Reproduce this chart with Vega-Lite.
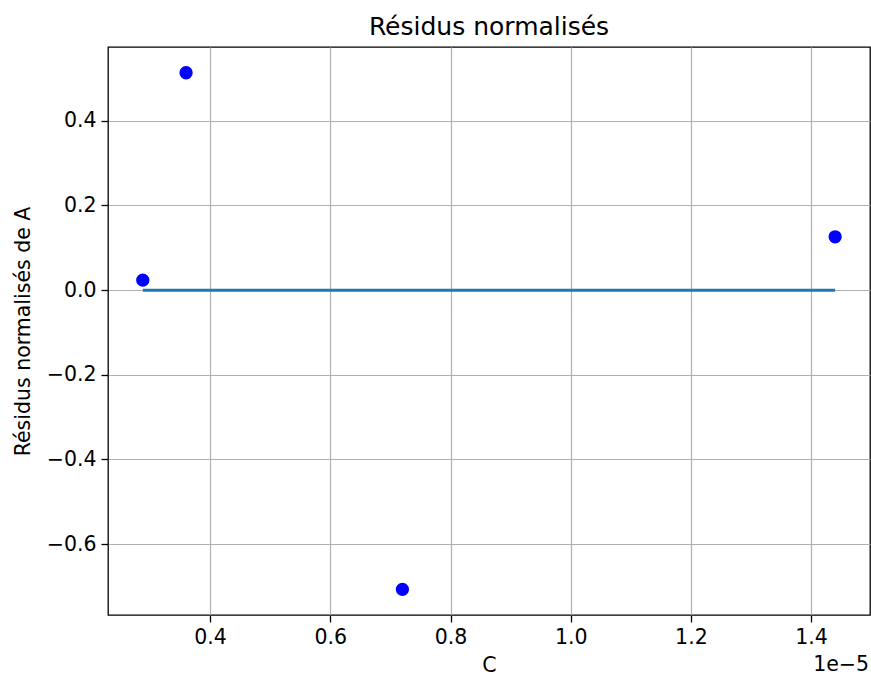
{
  "$schema": "https://vega.github.io/schema/vega-lite/v6.json",
  "width": 762,
  "height": 568,
  "autosize": "none",
  "padding": {"left": 108, "top": 47, "right": 1, "bottom": 62},
  "background": "white",
  "title": {"text": "Résidus normalisés", "font": "DejaVu Sans", "fontSize": 25, "fontWeight": "normal", "color": "black", "offset": 7, "baseline": "bottom", "anchor": "middle", "frame": "group", "dy": 25},
  "config": {
    "view": {"stroke": "black", "strokeWidth": 1.3},
    "axis": {"labelFont": "DejaVu Sans", "titleFont": "DejaVu Sans", "labelFontSize": 20.5, "titleFontSize": 20.5, "titleFontWeight": "normal", "labelColor": "black", "titleColor": "black", "domain": false, "tickColor": "black", "tickWidth": 1.3, "tickSize": 7, "labelPadding": 5, "gridColor": "#b0b0b0", "gridWidth": 1.2, "gridOpacity": 1}
  },
  "datasets": {
    "pts": [
      {"C": 0.00000288, "r": 0.0236},
      {"C": 0.0000036, "r": 0.5137},
      {"C": 0.0000072, "r": -0.707},
      {"C": 0.0000144, "r": 0.126}
    ],
    "zero": [
      {"C": 0.00000288, "r": 0},
      {"C": 0.0000036, "r": 0},
      {"C": 0.0000072, "r": 0},
      {"C": 0.0000144, "r": 0}
    ],
    "offset": [{"t": "1e−5", "C": 0.00001498, "r": -0.7676}]
  },
  "layer": [
    {
      "data": {"name": "zero"},
      "mark": {"type": "line", "color": "#1f77b4", "strokeWidth": 3},
      "encoding": {
        "x": {"field": "C", "type": "quantitative", "scale": {"domain": [0.000002301, 0.00001498], "nice": false, "zero": false},
          "axis": {"values": [0.000004, 0.000006, 0.000008, 0.00001, 0.000012, 0.000014], "labelExpr": "format(datum.value*1e5, '.1f')", "title": "C", "titlePadding": 8, "grid": true}},
        "y": {"field": "r", "type": "quantitative", "scale": {"domain": [-0.7676, 0.5745], "nice": false, "zero": false},
          "axis": {"values": [-0.6, -0.4, -0.2, 0, 0.2, 0.4], "labelExpr": "replace(format(datum.value, '.1f'), '-', '−')", "title": "Résidus normalisés de A", "titlePadding": 13, "grid": true}}
      }
    },
    {
      "data": {"name": "pts"},
      "mark": {"type": "circle", "color": "#0000ff", "opacity": 1, "size": 177},
      "encoding": {
        "x": {"field": "C", "type": "quantitative"},
        "y": {"field": "r", "type": "quantitative"}
      }
    },
    {
      "data": {"name": "offset"},
      "mark": {"type": "text", "font": "DejaVu Sans", "fontSize": 20.5, "align": "right", "baseline": "alphabetic", "dy": 56, "dx": -1, "color": "black"},
      "encoding": {
        "x": {"field": "C", "type": "quantitative"},
        "y": {"field": "r", "type": "quantitative"},
        "text": {"field": "t"}
      }
    }
  ]
}
